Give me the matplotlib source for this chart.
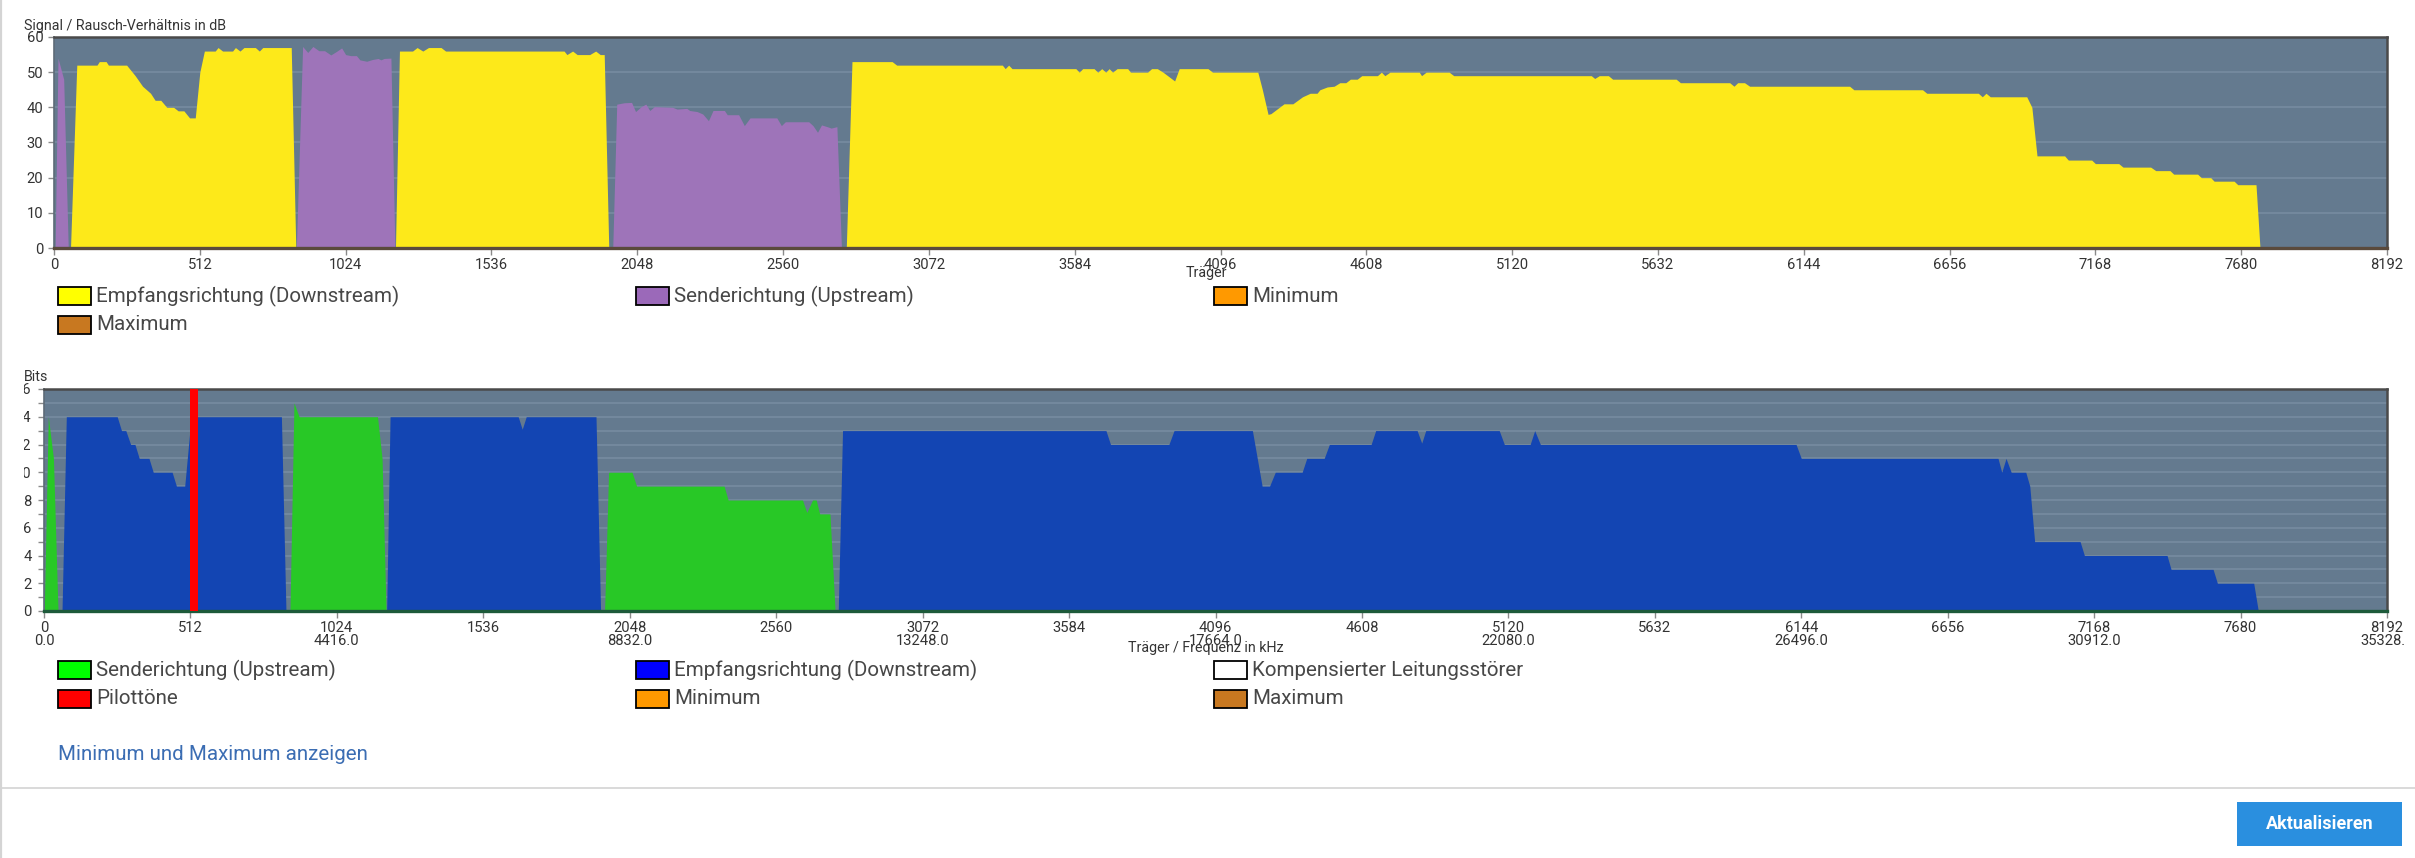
import numpy as np
import matplotlib
matplotlib.use("Agg")
import matplotlib.pyplot as plt
from matplotlib.patches import Rectangle
from matplotlib.lines import Line2D
from matplotlib.transforms import Bbox, TransformedBbox, blended_transform_factory

# ---------------- data ----------------
carrier_ticks = list(range(0, 8193, 512))
freq_tick_carriers = list(range(0, 8193, 1024))
khz_per_carrier = 4.3125

snr_ticks = [0, 10, 20, 30, 40, 50, 60]
bits_ticks = [0, 2, 4, 6, 8, 10, 12, 14, 16]

# SNR downstream (yellow)
snr_ds_carrier = [58, 80, 151, 159, 183, 191, 255, 285, 311, 339, 355, 375, 396, 420, 436, 456, 476, 496,
                  512, 528, 566, 576, 592, 627, 637, 653, 667, 707, 721, 733, 833, 849,
                  1199, 1213, 1259, 1275, 1295, 1315, 1359, 1375, 1791, 1801, 1821, 1837, 1881, 1902, 1918, 1932, 1948,
                  2782, 2802, 2943, 2959, 3330, 3340, 3352, 3364, 3588, 3600, 3612, 3652, 3665, 3679, 3693, 3705,
                  3717, 3733, 3770, 3780, 3840, 3854, 3874, 3894, 3935, 3951, 4052, 4068, 4227, 4243, 4263, 4273,
                  4319, 4350, 4384, 4411, 4435, 4445, 4471, 4495, 4515, 4536, 4552, 4576, 4592, 4647, 4661, 4673,
                  4691, 4794, 4802, 4818, 4899, 4915, 5398, 5410, 5426, 5458, 5473, 5696, 5711, 5884, 5899, 5912,
                  5936, 5954, 6305, 6320, 6561, 6576, 6757, 6771, 6784, 6799, 6927, 6945, 6963, 7060, 7073, 7155,
                  7168, 7250, 7265, 7362, 7380, 7430, 7443, 7527, 7540, 7573, 7585, 7655, 7668, 7732, 7746]
snr_ds_value = [0, 52, 52, 53, 53, 52, 52, 49, 46, 44, 42, 42, 40, 40, 39, 39, 37, 37,
                50, 56, 56, 57, 56, 56, 57, 56, 57, 57, 56, 57, 57, 0,
                0, 56, 56, 57, 56, 57, 57, 56, 56, 55, 56, 55, 55, 56, 55, 55, 0,
                0, 53, 53, 52, 52, 51, 52, 51, 51, 50, 51, 51, 50, 51, 50, 51,
                50, 51, 51, 50, 50, 51, 51, 50, 47.5, 51, 51, 50, 50, 45, 38, 38.2,
                41, 41, 43, 44, 44, 45, 45.8, 46, 47, 47, 48, 48, 49, 49, 50, 49,
                50, 50, 49, 50, 50, 49, 49, 48.2, 49, 49, 48, 48, 47, 47, 46, 47,
                47, 46, 46, 45, 45, 44, 44, 43, 44, 43, 43, 40, 26.2, 26.2, 25, 25,
                24, 24, 23, 23, 22, 22, 21, 21, 20, 20, 19, 19, 18, 18, 0]

# SNR upstream (purple)
snr_us_carrier = [4, 14, 34, 50,
                  851, 873, 891, 909, 930, 950, 972, 992, 1010, 1024, 1042, 1062, 1074, 1098, 1118, 1138, 1148,
                  1159, 1183, 1197,
                  1962, 1976, 2002, 2028, 2042, 2062, 2078, 2092, 2108, 2172, 2188, 2222, 2232, 2258, 2278, 2298,
                  2314, 2354, 2364, 2404, 2424, 2444, 2538, 2554, 2568, 2650, 2665, 2681, 2695, 2715, 2729, 2749,
                  2765]
snr_us_value = [0, 54, 48, 0,
                0, 57.3, 55.6, 57.3, 56.1, 56.1, 54.9, 55.9, 56.9, 55, 54.7, 54.7, 53.5, 53.1, 53.6, 53.9, 53.5,
                53.9, 54, 0,
                0, 40.9, 41.3, 41.4, 38.8, 40.2, 40.9, 39.1, 40.2, 40, 39.5, 39.7, 39.1, 38.8, 38.1, 36.2,
                39.1, 39.1, 37.9, 37.9, 34.8, 37, 37, 34.8, 35.9, 35.9, 34.8, 32.9, 35, 34.5, 34.1, 34.5,
                0]

# Bits downstream (blue)
bits_ds_carrier = [63, 78, 256, 271, 286, 303, 318, 333, 367, 382, 448, 463, 492, 510, 512, 540, 830, 846,
                   1198, 1210, 1658, 1672, 1686, 1930, 1946,
                   2777, 2792, 3713, 3729, 3933, 3951, 4225, 4259, 4285, 4305, 4399, 4415, 4476, 4494, 4640,
                   4656, 4801, 4817, 4831, 5088, 5106, 5196, 5212, 5232, 6126, 6144, 6832, 6845, 6860, 6878,
                   6929, 6943, 6960, 7119, 7134, 7423, 7437, 7584, 7599, 7726, 7742]
bits_ds_value = [0, 14, 14, 13, 13, 12, 12, 11, 11, 10, 10, 9, 9, 13, 14, 14, 14, 0,
                 0, 14, 14, 13.1, 14, 14, 0,
                 0, 13, 13, 12, 12, 13, 13, 9, 9, 10, 10, 11, 11, 12, 12,
                 13, 13, 12.1, 13, 13, 12, 12, 13, 12, 12, 11, 11, 10, 11, 10,
                 10, 9, 5, 5, 4, 4, 3, 3, 2, 2, 0]

# Bits upstream (green)
bits_us_carrier = [1, 15, 33, 49,
                   860, 874, 892, 1166, 1182, 1196,
                   1960, 1974, 2056, 2072, 2378, 2392, 2652, 2667, 2687, 2700, 2712, 2748, 2766]
bits_us_value = [0, 14, 11, 0,
                 0, 15, 14, 14, 11, 0,
                 0, 10, 10, 9, 9, 8, 8, 7.1, 8, 8, 7, 7, 0]

# Pilot tone (red)
pilot_carrier = [512, 540]
pilot_bits = [16, 16]

legend1_labels = ['Empfangsrichtung (Downstream)', 'Senderichtung (Upstream)', 'Minimum', 'Maximum']
legend1_colors = ['#ffff00', '#9b69b9', '#ff9900', '#c87820']
legend2_labels = ['Senderichtung (Upstream)', 'Empfangsrichtung (Downstream)', 'Kompensierter Leitungsstörer',
                  'Pilottöne', 'Minimum', 'Maximum']
legend2_colors = ['#00ff00', '#0000ff', '#ffffff', '#ff0000', '#ff9900', '#c87820']

# ---------------- style ----------------
W, H, DPI = 2415, 858, 100
FONT = ['Roboto', 'DejaVu Sans']
plt.rcParams['font.family'] = FONT

BG = '#647a8f'
GRID = '#778ca0'
YELLOW = '#fde91a'
PURPLE = '#9e74b9'
BLUE = '#1345b3'
GREEN = '#28c826'
RED = '#ff0000'
TXT = '#333333'
LEG_TXT = '#474747'
TICK_FS = 10.6
SMALL_FS = 10.3
LEG_FS = 14.8

fig = plt.figure(figsize=(W / DPI, H / DPI), dpi=DPI)
fig.patch.set_facecolor('white')


def fx(px):
    return px / W


def fy(py):
    return 1 - py / H


def add_axes_px(l, t, r, b):
    return fig.add_axes([fx(l), fy(b), (r - l) / W, (b - t) / H])


def style_axes(ax, bottom_color):
    ax.set_facecolor(BG)
    ax.set_axisbelow(True)
    for s in ('top', 'right'):
        ax.spines[s].set_color('#4a4a4a')
        ax.spines[s].set_linewidth(1.8)
    ax.spines['left'].set_color('#5d6b78')
    ax.spines['left'].set_linewidth(1.2)
    ax.spines['bottom'].set_color(bottom_color)
    ax.spines['bottom'].set_linewidth(2.4)
    ax.tick_params(axis='both', which='both', direction='out', color='#8a8a8a', width=1,
                   labelcolor=TXT, labelsize=TICK_FS)
    ax.tick_params(axis='x', length=5, pad=2.5)
    ax.tick_params(axis='y', length=4, pad=3.6)


# ---------- top chart: SNR ----------
ax1 = add_axes_px(54, 37, 2387, 248)
style_axes(ax1, '#5a4a3c')
ax1.fill_between(snr_ds_carrier, snr_ds_value, color=YELLOW, lw=0, zorder=2)
ax1.fill_between(snr_us_carrier, snr_us_value, color=PURPLE, lw=0, zorder=2)
ax1.set_xlim(0, 8192)
ax1.set_ylim(0, 60)
ax1.set_xticks(carrier_ticks)
ax1.set_xticklabels([str(c) for c in carrier_ticks])
ax1.set_yticks(snr_ticks)
ax1.set_yticklabels([str(v) for v in snr_ticks])
ax1.grid(axis='y', color=GRID, lw=1.2)

# ---------- bottom chart: Bits ----------
ax2 = add_axes_px(44, 389, 2387, 611)
style_axes(ax2, '#1d5a3a')
ax2.fill_between(bits_ds_carrier, bits_ds_value, color=BLUE, lw=0, zorder=2)
ax2.fill_between(bits_us_carrier, bits_us_value, color=GREEN, lw=0, zorder=2)
ax2.fill_between(pilot_carrier, pilot_bits, color=RED, lw=0, zorder=3)
ax2.set_xlim(0, 8192)
ax2.set_ylim(0, 16)
ax2.set_xticks(carrier_ticks)
ax2.set_xticklabels([str(c) for c in carrier_ticks])
ax2.set_yticks(bits_ticks)
ax2.set_yticklabels([str(v) for v in bits_ticks])
ax2.set_yticks(range(0, 17), minor=True)
ax2.tick_params(axis='y', which='minor', length=4, color='#8a8a8a')
ax2.grid(axis='y', which='both', color=GRID, lw=1.2)
ax2.tick_params(axis='y', length=4, pad=4.8)

clip_left = TransformedBbox(Bbox.from_extents(fx(24.5), 0, 1, 1), fig.transFigure)
for lbl in ax2.get_yticklabels():
    lbl.set_clip_box(clip_left)
    lbl.set_clip_on(True)

clip_right = TransformedBbox(Bbox.from_extents(0, 0, fx(2405), 1), fig.transFigure)
tr = blended_transform_factory(ax2.transData, fig.transFigure)
for c in freq_tick_carriers:
    t = ax2.text(c, fy(641), f"{c * khz_per_carrier:.1f}", ha='center', va='center',
                 fontsize=TICK_FS, color=TXT, transform=tr, clip_on=True)
    t.set_clip_box(clip_right)

# ---------- titles / axis labels ----------
fig.text(fx(24), fy(26), 'Signal / Rausch-Verhältnis in dB', ha='left', va='center', fontsize=SMALL_FS, color=TXT)
fig.text(fx(1206), fy(273), 'Träger', ha='center', va='center', fontsize=SMALL_FS, color=TXT)
fig.text(fx(24), fy(377), 'Bits', ha='left', va='center', fontsize=SMALL_FS, color=TXT)
fig.text(fx(1206), fy(648), 'Träger / Frequenz in kHz', ha='center', va='center', fontsize=SMALL_FS, color=TXT)

# ---------- legends ----------
col_x = [58, 636, 1214]


def draw_legend(labels, colors, row_tops):
    for i, (lab, col) in enumerate(zip(labels, colors)):
        r, c = divmod(i, 3)
        x0, y0 = col_x[c], row_tops[r]
        fig.patches.append(Rectangle((fx(x0), fy(y0 + 18)), 33 / W, 18 / H, transform=fig.transFigure,
                                     facecolor=col, edgecolor='black', lw=1.3))
        fig.text(fx(x0 + 38), fy(y0 + 9), lab, ha='left', va='center', fontsize=LEG_FS, color=LEG_TXT)


draw_legend(legend1_labels, legend1_colors, [287, 316])
draw_legend(legend2_labels, legend2_colors, [661, 690])

fig.text(fx(58), fy(755), 'Minimum und Maximum anzeigen', ha='left', va='center', fontsize=LEG_FS, color='#3b6db3')

# ---------- page decorations ----------
fig.lines.append(Line2D([0, 1], [fy(788), fy(788)], transform=fig.transFigure, color='#d9d9d9', lw=1.4))
fig.lines.append(Line2D([fx(1), fx(1)], [0, 1], transform=fig.transFigure, color='#d4d4d4', lw=1.6))
fig.patches.append(Rectangle((fx(2237), fy(846)), 165 / W, 44 / H, transform=fig.transFigure,
                             facecolor='#2a8fdf', edgecolor='none'))
fig.text(fx(2319.5), fy(824), 'Aktualisieren', ha='center', va='center', fontsize=13, color='white',
         fontweight='bold')

fig.savefig('out.png', dpi=DPI, facecolor='white')
